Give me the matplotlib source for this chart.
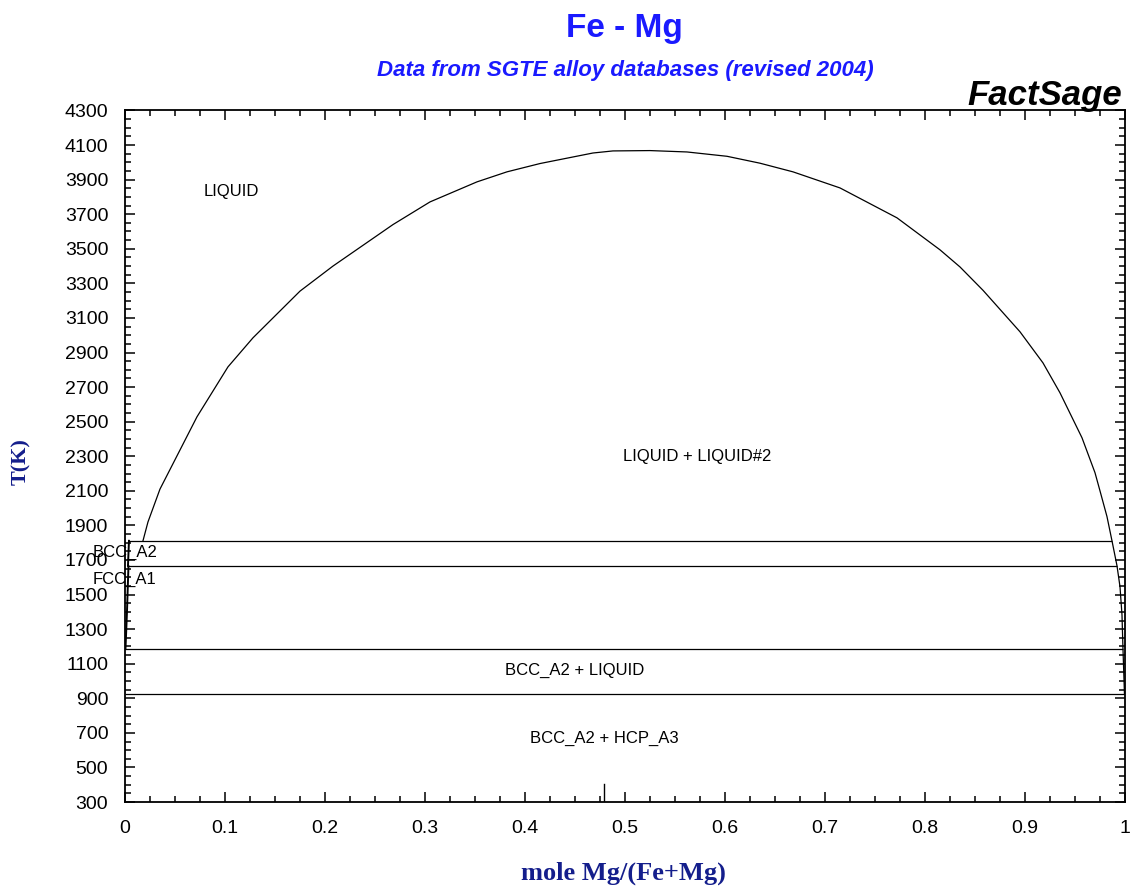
import matplotlib
matplotlib.use("Agg")
import matplotlib.pyplot as plt
from matplotlib.ticker import MultipleLocator, FixedLocator, FuncFormatter

# Liquid miscibility gap (L1 + L2) and the Mg-rich liquidus below it
gap_x = [0.018, 0.023, 0.035, 0.072, 0.103, 0.128, 0.175, 0.208, 0.228, 0.268,
         0.305, 0.352, 0.382, 0.415, 0.428, 0.468, 0.488, 0.525, 0.562, 0.602,
         0.635, 0.668, 0.715, 0.772, 0.815, 0.835, 0.858, 0.895, 0.918, 0.935,
         0.957, 0.970, 0.975, 0.982, 0.987, 0.992, 0.995, 0.997, 0.998, 0.9995]
gap_T = [1811, 1920, 2110, 2528, 2817, 2985, 3255, 3400, 3480, 3640,
         3771, 3887, 3945, 3993, 4008, 4054, 4066, 4068, 4060, 4035,
         3995, 3945, 3852, 3679, 3494, 3395, 3260, 3020, 2840, 2667,
         2407, 2205, 2100, 1951, 1811, 1667, 1546, 1384, 1185, 923]

# Fe-rich solvus (Mg solubility in BCC / FCC iron)
solvus_x = [0.004, 0.003, 0.0035, 0.002, 0.0005]
solvus_T = [1811, 1667, 1667, 1400, 1185]

# Invariant temperatures and their extents
inv_T = [1811, 1667, 1185, 923]
inv_x0 = [0.003, 0.003, 0.0005, 0.0]
inv_x1 = [0.987, 0.992, 0.998, 1.0]

# Phase field labels
phase_names = ["LIQUID", "LIQUID + LIQUID#2", "BCC_A2", "FCC_A1",
               "BCC_A2 + LIQUID", "BCC_A2 + HCP_A3"]
phase_x = [0.106, 0.572, 0.0, 0.0, 0.45, 0.479]
phase_T = [3829, 2297, 1742, 1586, 1060, 667]

marker_x = 0.479

y_ticks = list(range(300, 4301, 200))

title_blue = "#1a1aff"
label_navy = "#141e8c"

fig = plt.figure(figsize=(11.32, 8.88), dpi=100)
ax = fig.add_axes([0.1104, 0.0968, 0.8834, 0.7788])

ax.plot(gap_x, gap_T, color="black", lw=0.9)
ax.plot(solvus_x, solvus_T, color="black", lw=1.4)
ax.hlines(inv_T, inv_x0, inv_x1, color="black", lw=0.9)

for name, x, t in zip(phase_names, phase_x, phase_T):
    ax.text(x, t, name, ha="center", va="center", fontsize=12,
            family="Liberation Sans")

ax.axvline(marker_x, ymin=0, ymax=0.026, color="black", lw=1.0)

ax.set_xlim(0, 1)
ax.set_ylim(300, 4300)
ax.xaxis.set_major_locator(MultipleLocator(0.1))
ax.xaxis.set_minor_locator(MultipleLocator(0.025))
ax.yaxis.set_major_locator(FixedLocator(y_ticks))
ax.yaxis.set_minor_locator(MultipleLocator(50))
ax.xaxis.set_major_formatter(FuncFormatter(lambda v, p: f"{v:g}"))
ax.tick_params(which="both", direction="in", top=True, right=True,
               labelsize=14, width=1.1)
ax.tick_params(which="major", length=7)
ax.tick_params(which="minor", length=4)
ax.tick_params(axis="y", pad=12)
ax.tick_params(axis="x", pad=13)
for lab in ax.get_xticklabels() + ax.get_yticklabels():
    lab.set_family("Liberation Sans")
for sp in ax.spines.values():
    sp.set_linewidth(1.3)

fig.text(0.552, 0.968, "Fe - Mg", ha="center", va="center", fontsize=24,
         fontweight="bold", color=title_blue, family="Liberation Sans")
fig.text(0.552, 0.921, "Data from SGTE alloy databases (revised 2004)",
         ha="center", va="center", fontsize=16, fontweight="bold",
         style="italic", color=title_blue, family="Liberation Sans")
fig.text(0.991, 0.893, "FactSage", ha="right", va="center", fontsize=25,
         fontweight="bold", style="italic", color="black",
         family="Liberation Sans")

fig.text(0.019, 0.480, "T(K)", rotation=90, ha="center", va="center",
         fontsize=16, fontweight="bold", color=label_navy,
         family="Liberation Serif")
fig.text(0.551, 0.017, "mole Mg/(Fe+Mg)", ha="center", va="center",
         fontsize=19, fontweight="bold", color=label_navy,
         family="Liberation Serif")

fig.savefig("out.png", dpi=100)
